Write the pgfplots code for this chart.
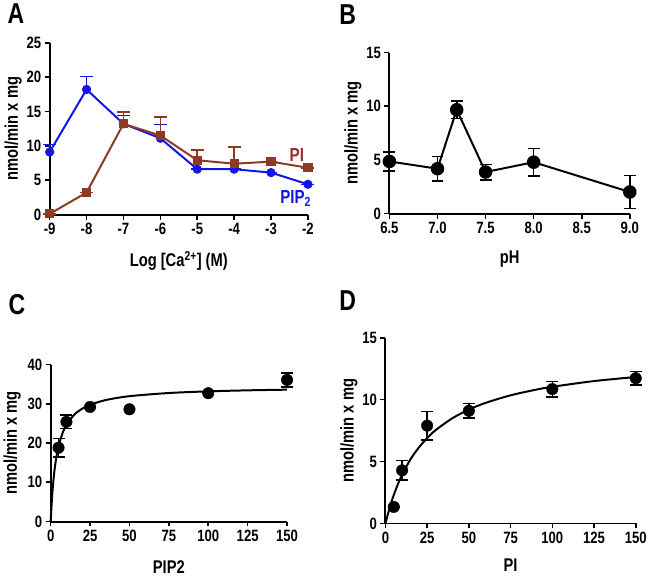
\documentclass[border=0pt]{standalone}
\usepackage{pgfplots}
\pgfplotsset{compat=1.18}
\usepackage{fontspec}
\setmainfont{Liberation Sans}[FakeStretch=0.8]
\definecolor{pipblue}{RGB}{20,20,230}
\definecolor{pibrown}{RGB}{140,58,35}
\definecolor{pitext}{RGB}{150,45,45}
\pgfplotsset{
  panel/.style={
    scale only axis,
    axis lines*=left,
    axis line style={line width=2pt,-},
    tick align=outside,
    major tick length=5pt,
    tick style={line width=1.6pt,black},
    /pgf/number format/assume math mode=true,
    ticklabel style={font=\fontsize{16.5}{16.5}\selectfont\bfseries},
    label style={font=\fontsize{18.5}{18.5}\selectfont\bfseries},
    ylabel={nmol/min x mg},
    clip=false,
  },
  eb/.style={error bars/.cd, y dir=both, y explicit,
    error bar style={line width=1.6pt,black},
    error mark options={rotate=90,mark size=6pt,line width=1.6pt,black}},
}
\begin{document}
\begin{tikzpicture}[x=1pt,y=1pt]
\path (0,0) rectangle (650,578);
% Panel labels
\node[font=\fontsize{29}{29}\selectfont\bfseries] at (16,564) {A};
\node[font=\fontsize{29}{29}\selectfont\bfseries] at (350,563) {B};
\node[font=\fontsize{29}{29}\selectfont\bfseries] at (17,271) {C};
\node[font=\fontsize{29}{29}\selectfont\bfseries] at (350,275) {D};
% Panel A
\begin{axis}[panel, at={(50pt,362pt)}, anchor=south west,
  width=260pt, height=173pt,
  xmin=-9, xmax=-2, ymin=0, ymax=25,
  xtick={-9,-8,...,-2}, ytick={0,5,10,15,20,25},
  xlabel={Log [Ca\textsuperscript{2+}] (M)},
  xlabel style={yshift=-10pt}, ylabel style={yshift=-2pt}]
\addplot[color=pipblue, line width=2pt, mark=*, mark size=3.6pt,
  error bars/.cd, y dir=plus, y explicit,
  error bar style={line width=1.6pt,pipblue},
  error mark options={rotate=90,mark size=6.5pt,line width=1.6pt,pipblue}]
 coordinates {
 (-9,9.1) +- (0,1.1)
 (-8,18.2) +- (0,1.9)
 (-7,13.2) +- (0,1.2)
 (-6,11.1) +- (0,2.0)
 (-5,6.6) +- (0,0)
 (-4,6.6) +- (0,0)
 (-3,6.1) +- (0,0)
 (-2,4.4) +- (0,0)
 };
\addplot[color=pibrown, line width=2pt, mark=square*, mark size=3.6pt,
  error bars/.cd, y dir=plus, y explicit,
  error bar style={line width=1.6pt,pibrown},
  error mark options={rotate=90,mark size=6.5pt,line width=1.6pt,pibrown}]
 coordinates {
 (-9,0.1) +- (0,0)
 (-8,3.2) +- (0,0)
 (-7,13.2) +- (0,1.7)
 (-6,11.5) +- (0,2.7)
 (-5,7.9) +- (0,1.5)
 (-4,7.4) +- (0,2.4)
 (-3,7.7) +- (0,0)
 (-2,6.8) +- (0,0)
 };
\node[text=pitext, font=\fontsize{19}{19}\selectfont\bfseries] at (axis cs:-2.3,8.7) {PI};
\node[text=pipblue, font=\fontsize{19}{19}\selectfont\bfseries] at (axis cs:-2.33,2.3) {PIP\textsubscript{2}};
\end{axis}
% Panel B
\begin{axis}[panel, at={(392pt,363pt)}, anchor=south west,
  width=242pt, height=162pt,
  xmin=6.5, xmax=9.0, ymin=0, ymax=15,
  xtick={6.5,7.0,7.5,8.0,8.5,9.0}, ytick={0,5,10,15},
  xticklabel style={/pgf/number format/.cd, fixed, fixed zerofill, precision=1},
  xlabel={pH}, xlabel style={yshift=-10pt}, ylabel style={yshift=-2pt}]
\addplot[black, line width=2pt, mark=*, mark size=5.8pt, eb]
 coordinates {
 (6.5,4.86) +- (0,0.9)
 (7.0,4.18) +- (0,1.15)
 (7.2,9.68) +- (0,0.8)
 (7.5,3.87) +- (0,0.72)
 (8.0,4.79) +- (0,1.28)
 (9.0,2.01) +- (0,1.52)
 };
\end{axis}
% Panel C
\begin{axis}[panel, at={(51pt,53pt)}, anchor=south west,
  width=238pt, height=158pt,
  xmin=0, xmax=150, ymin=0, ymax=40,
  xtick={0,25,50,75,100,125,150}, ytick={0,10,20,30,40},
  xlabel={PIP2}, xlabel style={yshift=-12pt}, ylabel style={yshift=0pt}]
\addplot[black, line width=2pt, smooth] coordinates {
 (0,0) (1,6.9) (2,11.5) (3,14.79) (4,17.25) (5,19.17) (7.5,22.5) (10,24.64)
 (15,27.24) (20,28.75) (25,29.74) (35,30.96) (50,31.94) (75,32.75)
 (100,33.17) (125,33.43) (150,33.6)};
\addplot[black, only marks, mark=*, mark size=5.8pt, eb]
 coordinates {
 (5,18.8) +- (0,2.4)
 (10,25.4) +- (0,1.7)
 (25,29.2) +- (0,0)
 (50,28.6) +- (0,0)
 (100,32.7) +- (0,0)
 (150,36.1) +- (0,1.75)
 };
\end{axis}
% Panel D
\begin{axis}[panel, at={(388pt,51pt)}, anchor=south west,
  width=252pt, height=187pt,
  xmin=0, xmax=150, ymin=0, ymax=15,
  xtick={0,25,50,75,100,125,150}, ytick={0,5,10,15},
  xlabel={PI}, xlabel style={yshift=-9pt}, ylabel style={yshift=-2pt}]
\addplot[black, line width=2pt, smooth] coordinates {
 (0,0) (2.5,1.25) (5,2.3) (7.5,3.18) (10,3.94) (15,5.18) (20,6.13) (25,6.9)
 (30,7.53) (40,8.49) (50,9.2) (60,9.74) (75,10.35) (90,10.8) (100,11.04)
 (125,11.5) (150,11.83)};
\addplot[black, only marks, mark=*, mark size=5.8pt, eb]
 coordinates {
 (5,1.34) +- (0,0)
 (10,4.29) +- (0,0.79)
 (25,7.9) +- (0,1.15)
 (50,9.1) +- (0,0.58)
 (100,10.85) +- (0,0.63)
 (150,11.73) +- (0,0.54)
 };
\end{axis}
\end{tikzpicture}
\end{document}
